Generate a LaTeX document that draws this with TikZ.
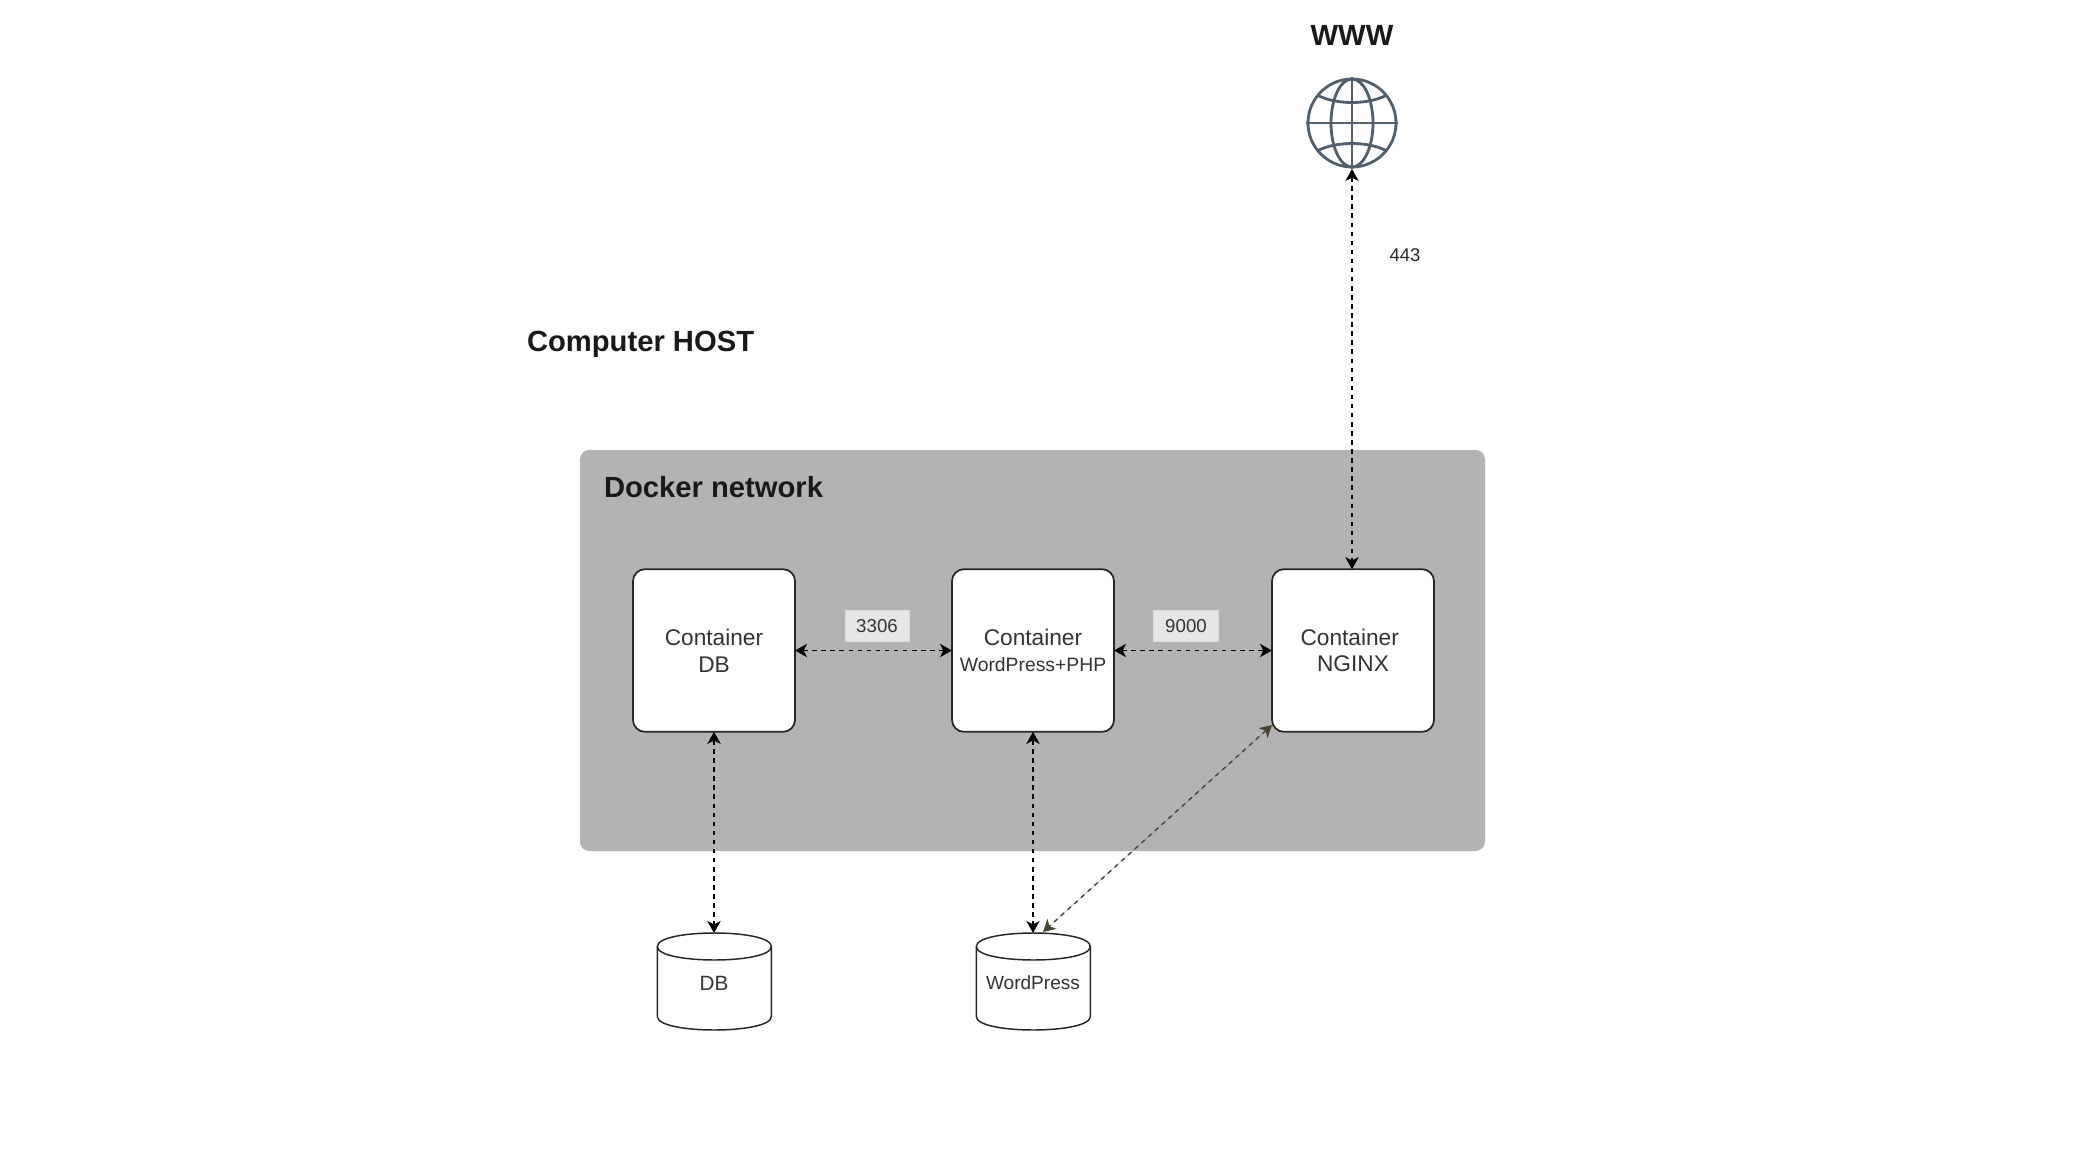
\documentclass[tikz,border=0pt]{standalone}
\usepackage{fontspec}
\setmainfont{Liberation Sans}
\usetikzlibrary{arrows.meta}
\definecolor{txt}{HTML}{333333}
\definecolor{netgray}{HTML}{B3B3B3}
\definecolor{labelgray}{HTML}{E6E6E6}
\definecolor{globec}{HTML}{505F6B}
\definecolor{brownish}{HTML}{4A4530}
\tikzset{
  px/.style={x=0.75pt,y=-0.75pt},
  container/.style={draw=black!85,line width=1.3pt,fill=white,rounded corners=9pt,minimum width=121.5pt,minimum height=122pt,inner sep=0pt,outer sep=0pt,align=center,text=txt,font=\fontsize{17pt}{20pt}\selectfont},
  portlabel/.style={fill=labelgray,draw=labelgray!90!gray,line width=.5pt,minimum height=23pt,inner sep=0pt,outer sep=0pt,text=txt,font=\fontsize{14pt}{17pt}\selectfont},
  title/.style={inner sep=0pt,outer sep=0pt,text=black!90,font=\fontsize{21.9pt}{26pt}\selectfont\bfseries},
  cylbody/.style={draw=black!85,line width=1.1pt,fill=white},
  cyltext/.style={minimum width=85pt,minimum height=72.75pt,inner sep=0pt,outer sep=0pt,text=txt},
  link/.style={line width=1.1pt,dash pattern=on 3.4pt off 3.4pt,{Stealth[length=9pt,width=10pt,inset=2.5pt]}-{Stealth[length=9pt,width=10pt,inset=2.5pt]}},
  globeline/.style={draw=globec,line width=2.1pt},
}
\newcommand{\cylshape}[1]{%
  \draw[cylbody] (#1.north west) ++(0,13.5)
    .. controls +(0,-18) and +(0,-18) .. ++(114,0)
    -- ++(0,70)
    .. controls +(0,18) and +(0,18) .. ++(-114,0) -- cycle;
  \draw[cylbody,fill=none] (#1.north west) ++(0,13.5)
    .. controls +(0,18) and +(0,18) .. ++(114,0);
}
\begin{document}
\begin{tikzpicture}[px]
\useasboundingbox (0,0) rectangle (2086,1163);
\fill[white] (0,0) rectangle (2086,1163);

% Titles
\node[title,anchor=center] (wwwlabel) at (1352,35) {WWW};
\node[title,anchor=west] (hostlabel) at (527,344) {Computer HOST};

% Globe
\node[circle,globeline,fill=white,minimum size=66pt,inner sep=0pt,outer sep=1.5pt] (globe) at (1352,123) {};
\draw[globeline] (globe.center) ellipse [x radius=21,y radius=44];
\draw[globeline] (globe.north) -- (globe.south);
\draw[globeline] (globe.west) -- (globe.east);
\draw[globeline] (1317,95) .. controls (1336,105) and (1368,105) .. (1387,95);
\draw[globeline] (1317,151) .. controls (1336,141) and (1368,141) .. (1387,151);

% Docker network
\node[fill=netgray,rounded corners=7pt,minimum width=678.75pt,minimum height=300.75pt,inner sep=0pt,outer sep=0pt] (network) at (1032.5,650.5) {};
\node[title,anchor=west] (networklabel) at (604,487) {Docker network};

% Containers
\node[container] (cdb) at (714,650.5) {Container\\DB};
\node[container] (cwp) at (1033,650.5) {Container\\[-1pt]{\fontsize{14.5pt}{17pt}\selectfont WordPress+PHP}};
\node[container] (cnginx) at (1353,650.5) {Container\kern5pt\\NGINX};

% Port labels
\node[portlabel,minimum width=48pt] (p3306) at (877,626) {3306};
\node[portlabel,minimum width=49pt] (p9000) at (1186,626) {9000};

% Cylinders
\node[cyltext] (sdb) at (714,981.5) {};
\cylshape{sdb}
\node[text=txt,inner sep=0pt,font=\fontsize{15.5pt}{18pt}\selectfont] (sdbtext) at (714,983) {DB};
\node[cyltext] (swp) at (1033,981.5) {};
\cylshape{swp}
\node[text=txt,inner sep=0pt,font=\fontsize{14.3pt}{17pt}\selectfont] (swptext) at (1033,983) {WordPress};

% 443 label
\node[text=black!85,inner sep=0pt,font=\fontsize{13.8pt}{16pt}\selectfont] (p443) at (1405,255) {443};

% Connectors
\draw[link] (globe.south) -- (cnginx.north -| globe.south);
\draw[link] (cdb.east) -- (cwp.west);
\draw[link] (cwp.east) -- (cnginx.west);
\draw[link] (cdb.south) -- (sdb.north);
\draw[link] (cwp.south) -- (swp.north);
\coordinate (diagA) at (1272,725);
\coordinate (diagB) at (1043,932);
\draw[link,draw=brownish,fill=brownish] (diagA) -- (diagB);
\end{tikzpicture}
\end{document}
